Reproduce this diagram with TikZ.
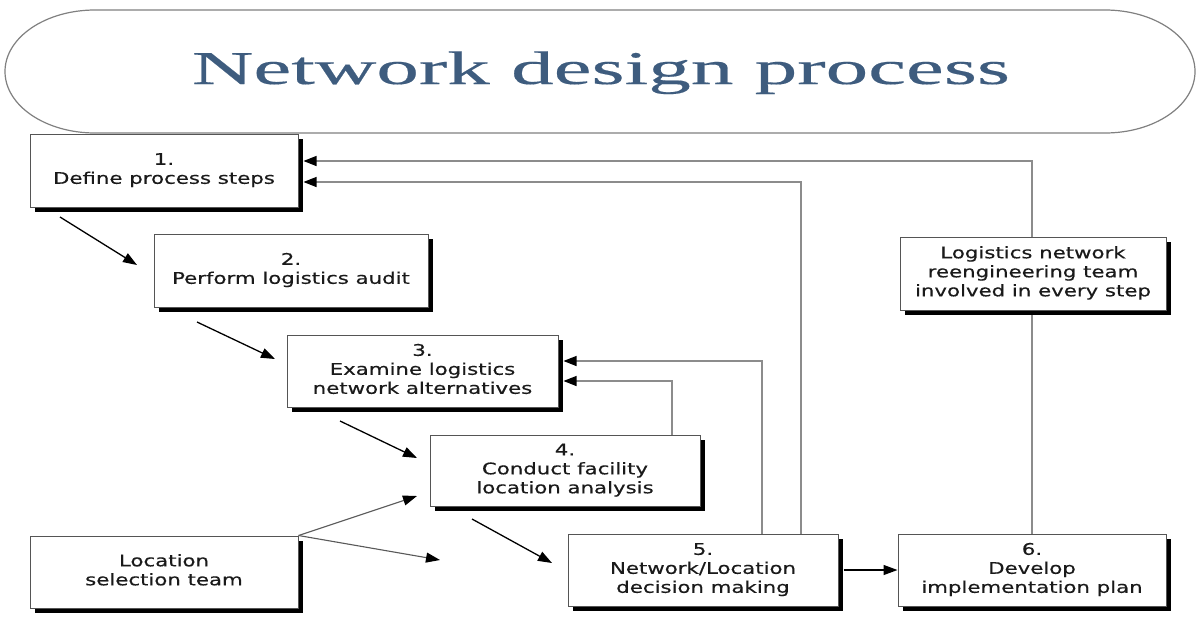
\documentclass[tikz,border=0pt]{standalone}
\usepackage{fontspec}
\setmainfont{DejaVu Sans}[BoldFont=DejaVu Sans, BoldFeatures={FakeBold=0.4}]
\newfontfamily\titlefont{Liberation Serif}[FakeBold=0.3]
\usetikzlibrary{arrows.meta,shadows,calc}
\pgfdeclarelayer{background}
\pgfsetlayers{background,main}
\definecolor{titleblue}{HTML}{3E5C7E}
\definecolor{txt}{HTML}{1A1A1A}
\definecolor{fbgray}{HTML}{8C8C8C}
\definecolor{edge}{HTML}{555555}
\newcommand\bxt[1]{\scalebox{1.33}[1]{\begin{tabular}{@{}c@{}}#1\end{tabular}}}
\begin{document}
\begin{tikzpicture}[x=1pt,y=-1pt,
  stepbox/.style={draw=edge, line width=1pt, fill=white, inner sep=0pt, text=txt,
    font=\fontsize{16}{19}\selectfont\bfseries,
    drop shadow={shadow xshift=5pt, shadow yshift=-5pt, fill=black, opacity=1}},
  flow/.style={draw=black, line width=1.3pt, -{Triangle[length=14pt,width=10pt]}},
  fb/.style={draw=fbgray, line width=1.1pt, -{Triangle[length=13pt,width=10pt,black]}},
  teamarrow/.style={draw=gray!70!black, line width=1.1pt, -{Triangle[length=14pt,width=10pt,black]}},
  pill/.style={draw=gray, line width=1.2pt}]
\useasboundingbox (0,0) rectangle (1198,616);

% title
\draw[pill] (95,10) -- (1105,10)
  arc[start angle=90,end angle=-90,x radius=90pt,y radius=61.5pt] -- (95,133)
  arc[start angle=-90,end angle=-270,x radius=90pt,y radius=61.5pt] -- cycle;
\node[font=\titlefont, text=titleblue, anchor=base, inner sep=0pt] (title) at (601,84)
  {\resizebox{818pt}{\height}{\fontsize{47}{50}\selectfont Network design process}};

% boxes
\node[stepbox, minimum width=268pt, minimum height=73pt] (s1) at (164,170.5) {\bxt{1.\\Define process steps}};
\node[stepbox, minimum width=274pt, minimum height=73pt] (s2) at (291,270.5) {\bxt{2.\\Perform logistics audit}};
\node[stepbox, minimum width=271pt, minimum height=72pt] (s3) at (422.5,371) {\bxt{3.\\Examine logistics\\network alternatives}};
\node[stepbox, minimum width=270pt, minimum height=71pt] (s4) at (565,470.5) {\bxt{4.\\Conduct facility\\location analysis}};
\node[stepbox, minimum width=270pt, minimum height=72pt] (s5) at (703,570) {\bxt{5.\\Network/Location\\decision making}};
\node[stepbox, minimum width=268pt, minimum height=72pt] (s6) at (1032,570) {\bxt{6.\\Develop\\implementation plan}};
\node[stepbox, minimum width=266pt, minimum height=73pt] (team) at (1033,273.5) {\bxt{Logistics network\\reengineering team\\involved in every step}};
\node[stepbox, minimum width=268pt, minimum height=72pt] (loc) at (164,572) {\bxt{Location\\selection team}};

% feedback lines
\begin{pgfonlayer}{background}
\fill[white] (0,0) rectangle (1198,616);
\draw[fb] (s6.north) |- ($(s1.east)+(5,-9.5)$);
\draw[fb] ($(s5.north)+(98,0)$) |- ($(s1.east)+(5,11.5)$);
\draw[fb] ($(s5.north)+(59,0)$) |- ($(s3.east)+(5,-10)$);
\draw[fb] ($(s4.north)+(107,0)$) |- ($(s3.east)+(5,10)$);
\end{pgfonlayer}

% step arrows
\coordinate (a1s) at (60,217);  \coordinate (a1e) at (137,265);
\coordinate (a2s) at (197,322); \coordinate (a2e) at (275,359);
\coordinate (a3s) at (340,421); \coordinate (a3e) at (417,458);
\coordinate (a4s) at (472,519); \coordinate (a4e) at (552,563);
\coordinate (l4e) at (417,496); \coordinate (l5e) at (440,560);
\draw[flow] (a1s) -- (a1e);
\draw[flow] (a2s) -- (a2e);
\draw[flow] (a3s) -- (a3e);
\draw[flow] (a4s) -- (a4e);
\draw[teamarrow] (loc.north east) -- (l4e);
\draw[teamarrow] (loc.north east) -- (l5e);
\draw[flow] ($(s5.east)+(5,0)$) -- (s6.west);
\end{tikzpicture}
\end{document}
